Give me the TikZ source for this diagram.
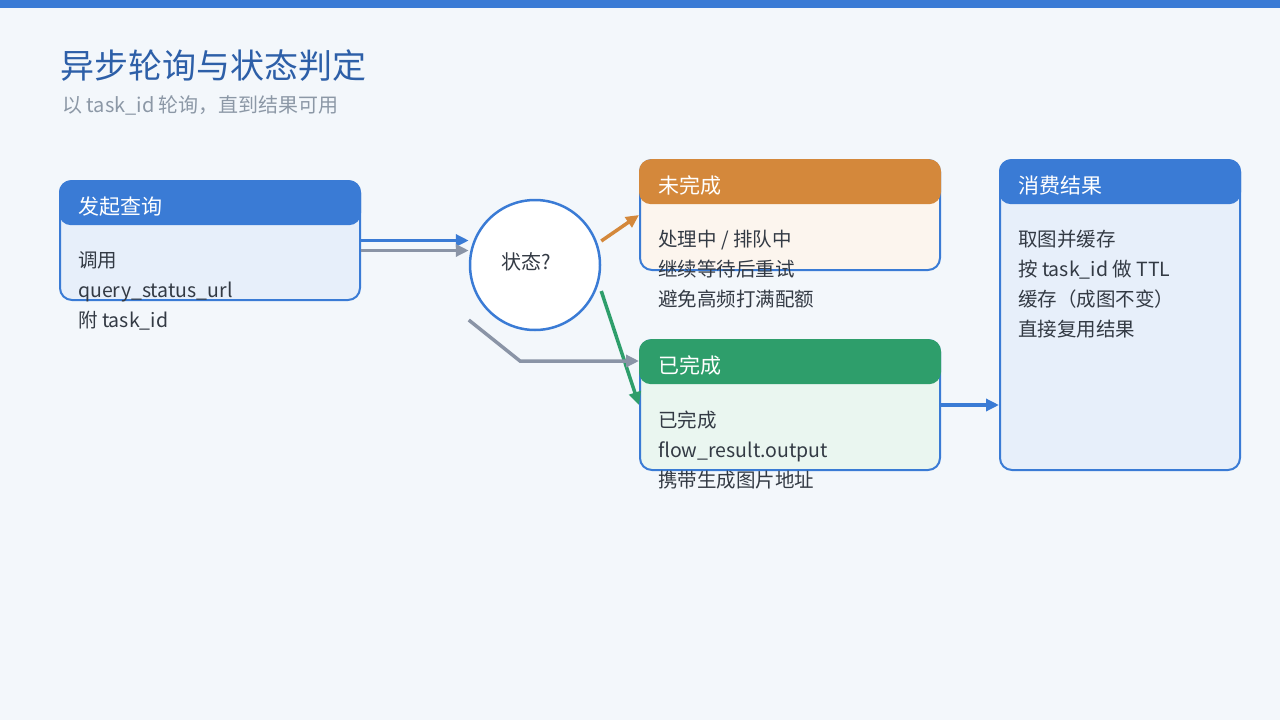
\documentclass[tikz,border=0pt]{standalone}
\usepackage{fontspec}
\setmainfont{Noto Sans CJK SC}
\usetikzlibrary{positioning,calc,arrows.meta}
\definecolor{colorBG}{HTML}{F3F7FB}
\definecolor{colorBlue}{HTML}{3A7BD5}
\definecolor{colorTitle}{HTML}{2D5FA8}
\definecolor{colorSub}{HTML}{8C98A6}
\definecolor{colorText}{HTML}{333A44}
\definecolor{colorOrange}{HTML}{D4883B}
\definecolor{colorGreen}{HTML}{2E9E6B}
\definecolor{colorGray}{HTML}{8A94A6}
\definecolor{colorBodyB}{HTML}{E7EFFA}
\definecolor{colorBodyO}{HTML}{FCF5EE}
\definecolor{colorBodyG}{HTML}{EAF6F0}
\tikzset{
   every path/.style={>={Triangle[length=13pt,width=12pt]}},
   card/.style={draw=colorBlue,line width=2pt,rounded corners=12pt,minimum width=300pt,inner sep=0pt},
   head/.style={anchor=north,rounded corners=12pt,minimum width=302pt,minimum height=45pt,inner sep=0pt},
   htxt/.style={anchor=base west,inner sep=0pt,text=white,font=\fontsize{21}{25}\selectfont},
   btxt/.style={anchor=north west,inner sep=0pt,align=left,text=colorText,font=\fontsize{19.5}{30}\selectfont},
   ctxt/.style={inner sep=0pt,text=colorText,font=\fontsize{20}{24}\selectfont},
   flowb/.style={->,color=colorBlue,line width=3.5pt},
   flowg/.style={->,color=colorGray,line width=3.5pt},
   floww/.style={->,color=colorOrange,line width=3.5pt},
   flowd/.style={->,color=colorGreen,line width=3.5pt},
}

\begin{document}
\begin{tikzpicture}[x=1pt,y=-1pt]
    \useasboundingbox (0,0) rectangle (1280,720);
    \fill[colorBG] (0,0) rectangle (1280,720);
    \fill[colorBlue] (0,0) rectangle (1280,8);

    \node[anchor=base west,inner sep=0pt,text=colorTitle,font=\fontsize{34}{40}\selectfont] (ttl) at (60,78) {异步轮询与状态判定};
    \node[anchor=base west,inner sep=0pt,text=colorSub,font=\fontsize{20}{24}\selectfont] (sub) at (62,112) {以 task\_id 轮询，直到结果可用};

    % start
    \node[card,fill=colorBodyB,minimum height=119pt] (query) at (210,240.5) {};
    \node[head,fill=colorBlue] (queryh) at (query.north) {};
    \node[htxt] (queryt) at (78,214) {发起查询};
    \node[btxt] (queryb) at (78,246.5) {\strut 调用\\query\_status\_url\\附 task\_id};

    % decision
    \node[circle,draw=colorBlue,line width=2.5pt,fill=white,minimum size=130pt,inner sep=0pt] (state) at (535,265) {};
    \node[ctxt] (statet) at (526,262) {状态?};

    % pending
    \node[card,fill=colorBodyO,minimum height=110pt] (pend) at (790,215) {};
    \node[head,fill=colorOrange] (pendh) at (pend.north) {};
    \node[htxt] (pendt) at (658,193.5) {未完成};
    \node[btxt] (pendb) at (658,225) {\strut 处理中 / 排队中\\继续等待后重试\\避免高频打满配额};

    % done
    \node[card,fill=colorBodyG,minimum height=130pt] (done) at (790,405) {};
    \node[head,fill=colorGreen] (doneh) at (done.north) {};
    \node[htxt] (donet) at (658,373.5) {已完成};
    \node[btxt] (doneb) at (658,406) {\strut 已完成\\flow\_result.output\\携带生成图片地址};

    % consume
    \node[card,fill=colorBodyB,minimum width=240pt,minimum height=310pt] (use) at (1120,315) {};
    \node[head,fill=colorBlue,minimum width=242pt] (useh) at (use.north) {};
    \node[htxt] (uset) at (1018,193) {消费结果};
    \node[btxt] (useb) at (1018,225.5) {\strut 取图并缓存\\按 task\_id 做 TTL\\缓存（成图不变）\\直接复用结果};

    \coordinate (wstart) at ($(state.east)+(0,-24)$);
    \coordinate (dstart) at ($(state.east)+(0,26)$);
    \coordinate (gstart) at ($(state.west)+(0,55)$);
    \coordinate (gbend) at (520,361);

    \draw[flowb] (query.east) -- (state.west |- query.east);
    \draw[flowg] ($(query.east)+(0,10)$) -- ($(state.west |- query.east)+(0,10)$);
    \draw[floww] (wstart) -- (pend.west);
    \draw[flowd] (dstart) -- (done.west);
    \draw[flowg] (gstart) -- (gbend) -- (gbend -| done.west);
    \draw[flowb] (done.east) -- (use.west |- done.east);
\end{tikzpicture}
\end{document}
